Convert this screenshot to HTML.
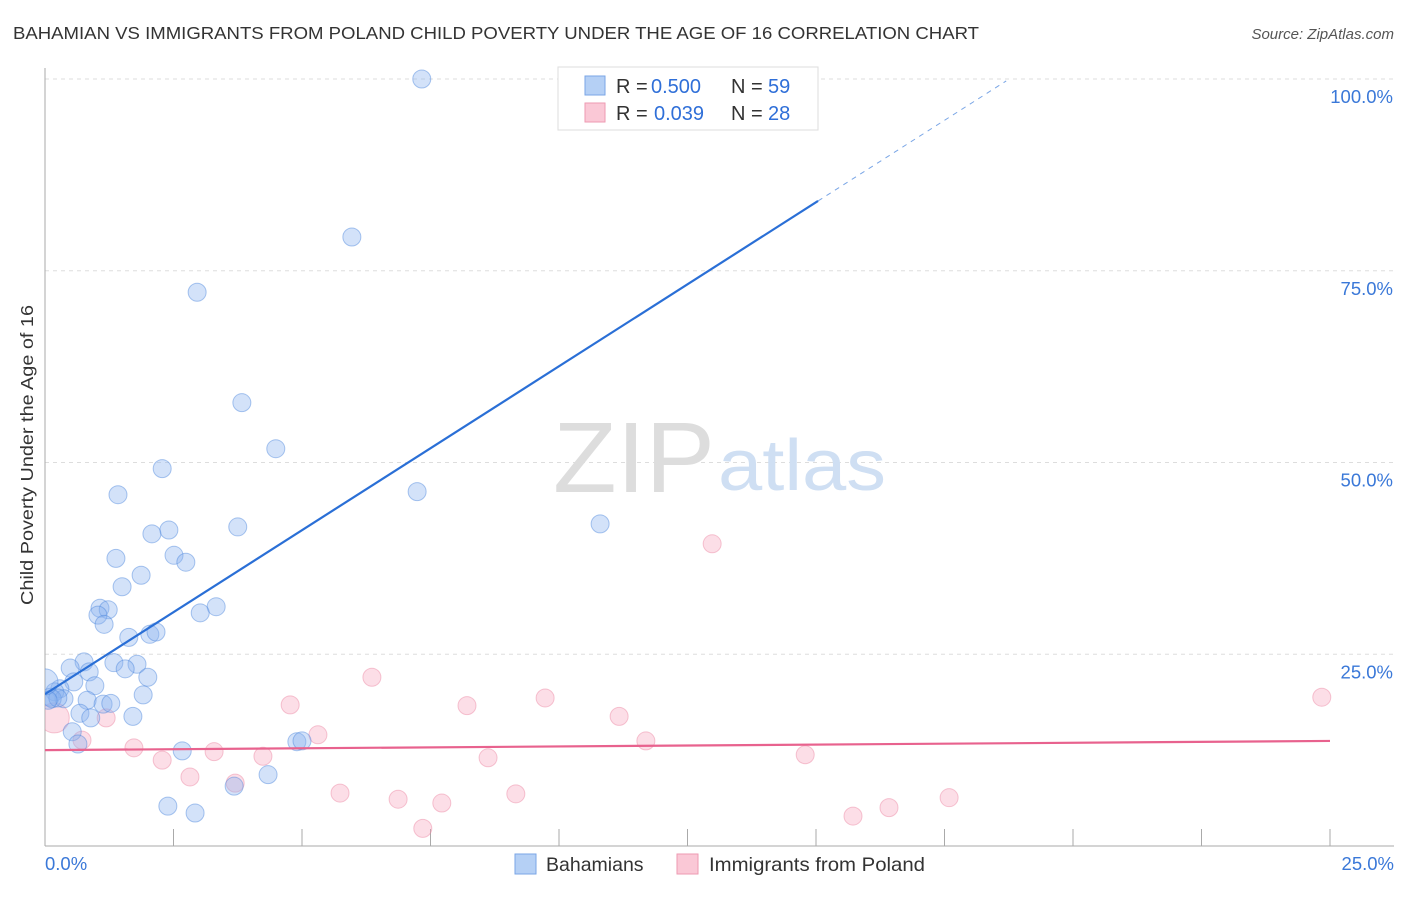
<!DOCTYPE html>
<html><head><meta charset="utf-8"><style>
body{margin:0;background:#fff;font-family:"Liberation Sans",sans-serif;}
svg text{font-family:"Liberation Sans",sans-serif;}
</style></head><body>
<svg id="chart" width="1406" height="892">
<text x="13" y="39" font-size="17.5" fill="#333" textLength="966" lengthAdjust="spacingAndGlyphs">BAHAMIAN VS IMMIGRANTS FROM POLAND CHILD POVERTY UNDER THE AGE OF 16 CORRELATION CHART</text>
<text x="1394" y="39" font-size="15" fill="#555" font-style="italic" text-anchor="end">Source: ZipAtlas.com</text>
<text x="33" y="605" font-size="17.5" fill="#333" textLength="300" lengthAdjust="spacingAndGlyphs" transform="rotate(-90 33 605)">Child Poverty Under the Age of 16</text>
<g id="grid"></g>
<text x="553" y="492" font-size="100" fill="#ddd" font-family="Liberation Serif" textLength="162" lengthAdjust="spacingAndGlyphs">ZIP</text>
<text x="718" y="490" font-size="72" fill="#cfdff3" textLength="168" lengthAdjust="spacingAndGlyphs">atlas</text>
<g id="marks"></g>
<g>
<rect x="558" y="67" width="260" height="63" fill="#fff" stroke="#ddd"/>
<rect x="585" y="76" width="20" height="19" fill="#b5d0f5" stroke="#7aa6e6"/>
<rect x="585" y="103" width="20" height="19" fill="#fac8d6" stroke="#ee9ab2"/>
<text x="616" y="93" font-size="20" fill="#333">R = <tspan fill="#2f6fd8" x="651">0.500</tspan><tspan x="731">N = </tspan><tspan fill="#2f6fd8" x="768">59</tspan></text>
<text x="616" y="120" font-size="20" fill="#333">R = <tspan fill="#2f6fd8" x="654">0.039</tspan><tspan x="731">N = </tspan><tspan fill="#2f6fd8" x="768">28</tspan></text>
</g>
<g>
<rect x="515" y="854" width="21" height="20" fill="#b5d0f5" stroke="#7aa6e6"/>
<text x="546" y="871" font-size="19.5" fill="#333">Bahamians</text>
<rect x="677" y="854" width="21" height="20" fill="#fac8d6" stroke="#ee9ab2"/>
<text x="709" y="871" font-size="19.5" fill="#333" textLength="216" lengthAdjust="spacingAndGlyphs">Immigrants from Poland</text>
</g>
</svg>
<script>
const yTicks=[25,50,75,100];
const yTickLabels=["25.0%","50.0%","75.0%","100.0%"];
const xTickCount=11;
const xEndLabels=["0.0%","25.0%"];
const blueX=[7.33,5.97,2.96,3.83,4.49,2.28,1.42,7.24,10.80,3.75,2.41,2.08,1.38,2.51,2.74,1.87,1.50,1.07,1.23,1.03,1.15,3.33,3.02,1.63,2.04,2.16,0.76,0.49,0.86,1.79,1.34,1.56,2.00,0.56,0.97,0.29,0.19,0.10,0.37,1.91,0.82,1.13,1.28,0.68,0.89,1.71,0.53,0.64,2.67,4.90,5.00,4.34,3.68,2.39,2.92,0.14,0.25,0.06,0.0];
const blueY=[100.0,79.4,72.2,57.8,51.8,49.2,45.8,46.2,42.0,41.6,41.2,40.7,37.5,37.9,37.0,35.3,33.8,31.0,30.8,30.1,28.9,31.2,30.4,27.2,27.6,27.9,24.0,23.2,22.7,23.7,23.9,23.1,22.0,21.4,20.9,20.5,20.1,19.4,19.2,19.7,19.0,18.5,18.6,17.3,16.7,16.9,14.9,13.3,12.4,13.6,13.7,9.3,7.8,5.2,4.3,19.2,19.3,19.0,21.4];
const blueR=[9,9,9,9,9,9,9,9,9,9,9,9,9,9,9,9,9,9,9,9,9,9,9,9,9,9,9,9,9,9,9,9,9,9,9,9,9,9,9,9,9,9,9,9,9,9,9,9,9,9,9,9,9,9,9,9,9,9,13];
const pinkX=[0.18,1.19,0.72,1.73,2.28,2.82,3.29,3.70,4.24,4.77,5.31,5.74,6.36,6.87,7.35,7.72,8.21,8.62,9.16,9.73,11.17,11.69,12.98,14.79,15.72,16.42,17.59,24.84];
const pinkY=[16.7,16.7,13.8,12.8,11.2,9.0,12.3,8.2,11.7,18.4,14.5,6.9,22.0,6.1,2.3,5.6,18.3,11.5,6.8,19.3,16.9,13.7,39.4,11.9,3.9,5.0,6.3,19.4];
const pinkR=[15,9,9,9,9,9,9,9,9,9,9,9,9,9,9,9,9,9,9,9,9,9,9,9,9,9,9,9];
const blueLine=[19.8,4.275];
const pinkLine=[12.5,0.048];
const NS="http://www.w3.org/2000/svg";
const X=v=>45+v*51.4, Y=v=>846-v*7.67;
function mk(t,a,p){const e=document.createElementNS(NS,t);for(const k in a)e.setAttribute(k,a[k]);p.appendChild(e);return e;}
const grid=document.getElementById('grid'), marks=document.getElementById('marks');
yTicks.forEach((t,i)=>{
 const l=mk('line',{x1:45,x2:1394,y1:Y(t),y2:Y(t),stroke:'#ddd','stroke-dasharray':'4,4'},grid);
 
 
 const tx=mk('text',{x:1393,y:Y(t)+24,'font-size':18.5,fill:'#3a78d8','text-anchor':'end'},grid);tx.textContent=yTickLabels[i];
 
 
});
const ax=mk('line',{x1:45,x2:45,y1:68,y2:846,stroke:'#aaa'},grid);


const bx=mk('line',{x1:45,x2:1394,y1:846,y2:846,stroke:'#aaa'},grid);


for(let i=0;i<xTickCount;i++){const v=i*2.5;const t=mk('line',{x1:X(v),x2:X(v),y1:829,y2:846,stroke:'#aaa'},grid);
 
 }
[[0,'start',45],[25,'end',1394]].forEach((d,i)=>{const t=mk('text',{x:d[2],y:870,'font-size':18.5,fill:'#3a78d8','text-anchor':d[1]},grid);t.textContent=xEndLabels[i];
 
 });
const clip=mk('clipPath',{id:'pc'},marks);mk('rect',{x:45,y:60,width:1360,height:786},clip);
const g=mk('g',{'clip-path':'url(#pc)'},marks);
pinkX.forEach((x,i)=>{const c=mk('circle',{cx:X(x),cy:Y(pinkY[i]),r:pinkR[i],fill:'rgba(246,160,185,0.35)',stroke:'rgba(235,130,160,0.45)','stroke-width':1},g);
 
 });
blueX.forEach((x,i)=>{const c=mk('circle',{cx:X(x),cy:Y(blueY[i]),r:blueR[i],fill:'rgba(140,180,240,0.38)',stroke:'rgba(70,130,220,0.45)','stroke-width':1},g);
 
 });
const bl=mk('line',{x1:X(0),y1:Y(blueLine[0]),x2:X(15.04),y2:Y(blueLine[0]+blueLine[1]*15.04),stroke:'#2a6fd6','stroke-width':2.2},g);


const bd=mk('line',{x1:X(15.04),y1:Y(blueLine[0]+blueLine[1]*15.04),x2:X(18.7),y2:Y(blueLine[0]+blueLine[1]*18.7),stroke:'#7aa6e6','stroke-width':1,'stroke-dasharray':'5,5'},g);


const pl=mk('line',{x1:X(0),y1:Y(pinkLine[0]),x2:X(25),y2:Y(pinkLine[0]+pinkLine[1]*25),stroke:'#e8628e','stroke-width':2.2},g);


</script>
</body></html>
